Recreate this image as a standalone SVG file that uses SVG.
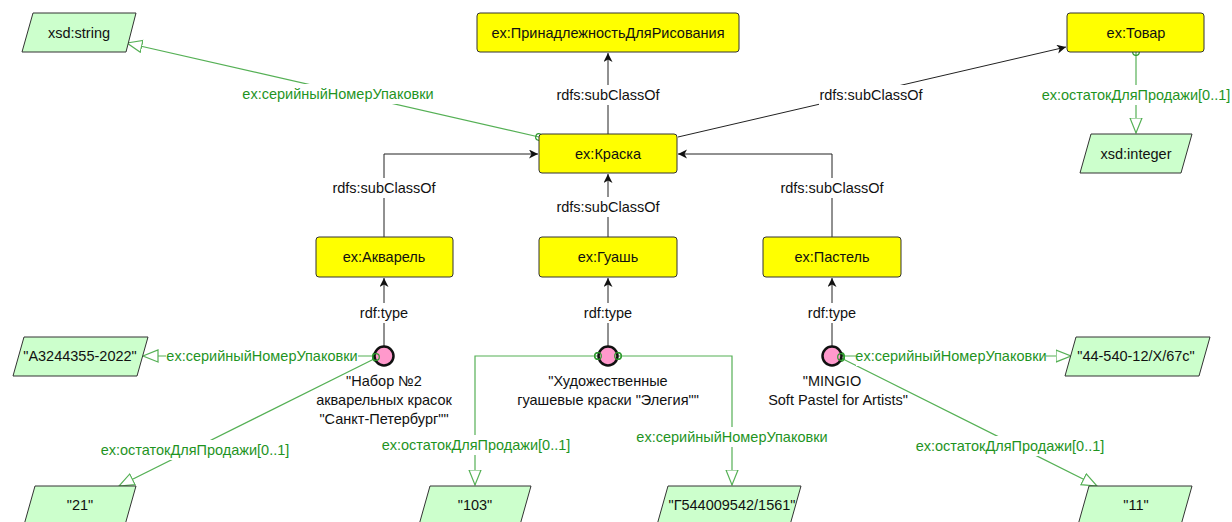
<svg xmlns="http://www.w3.org/2000/svg" width="1232" height="522" viewBox="0 0 1232 522">
<style>
text{font-family:"Liberation Sans",Arial,sans-serif;font-size:14.5px;text-anchor:middle;dominant-baseline:central;fill:#111}
.cls{fill:#ffff00;stroke:#333;stroke-width:1}
.lit{fill:#ccffcc;stroke:#333;stroke-width:1}
.ind{fill:#ff99cc;stroke:#111;stroke-width:2.5}
.e{fill:none;stroke:#222;stroke-width:1}
.g{fill:none;stroke:#55b055;stroke-width:1.2}
.gl{fill:#1f941f}
.bg{fill:#fff}
</style>
<defs>
<marker id="arr" markerUnits="userSpaceOnUse" markerWidth="12" markerHeight="12" refX="9" refY="4.5" orient="auto" viewBox="0 0 12 12">
<path d="M0,0 L9,4.5 L0,9 L2.5,4.5 z" fill="#111"/>
</marker>
<marker id="tri" markerUnits="userSpaceOnUse" markerWidth="18" markerHeight="16" refX="15.5" refY="7" orient="auto" viewBox="0 0 18 16">
<path d="M0.5,1 L15.5,7 L0.5,13 z" fill="#fff" stroke="#55b055" stroke-width="1.2"/>
</marker>
<marker id="dot" markerUnits="userSpaceOnUse" markerWidth="10" markerHeight="10" refX="5" refY="5" orient="auto" viewBox="0 0 10 10">
<circle cx="5" cy="5" r="3.3" fill="none" stroke="#2e9a2e" stroke-width="1.2"/>
</marker>
</defs>
<rect width="1232" height="522" fill="#fff"/>

<g id="connectors">
<path class="e" d="M608,134 L608,53" marker-end="url(#arr)"/>
<path class="e" d="M678,137 L1066,47" marker-end="url(#arr)"/>
<path class="e" d="M384,237 L384,154 L538,154" marker-end="url(#arr)"/>
<path class="e" d="M608,237 L608,174" marker-end="url(#arr)"/>
<path class="e" d="M832,237 L832,154 L678,154" marker-end="url(#arr)"/>
<path class="e" d="M384,346 L384,278" marker-end="url(#arr)"/>
<path class="e" d="M608,346 L608,278" marker-end="url(#arr)"/>
<path class="e" d="M832,346 L832,278" marker-end="url(#arr)"/>
<path class="g" d="M539,137 L127,43" marker-start="url(#dot)" marker-end="url(#tri)"/>
<path class="g" d="M1136,52 L1136,133" marker-start="url(#dot)" marker-end="url(#tri)"/>
<path class="g" d="M376,356 L143,356" marker-start="url(#dot)" marker-end="url(#tri)"/>
<path class="g" d="M376,358 L119,486" marker-start="url(#dot)" marker-end="url(#tri)"/>
<path class="g" d="M598,356 L475,356 L475,485" marker-start="url(#dot)" marker-end="url(#tri)"/>
<path class="g" d="M618,356 L732,356 L732,485" marker-start="url(#dot)" marker-end="url(#tri)"/>
<path class="g" d="M841,356 L1071,356" marker-start="url(#dot)" marker-end="url(#tri)"/>
<path class="g" d="M841,358 L1097,486" marker-start="url(#dot)" marker-end="url(#tri)"/>
<rect class="bg" x="556" y="85" width="104" height="20"/><text x="608" y="95">rdfs:subClassOf</text>
<rect class="bg" x="819" y="85" width="104" height="20"/><text x="871" y="95">rdfs:subClassOf</text>
<rect class="bg" x="332" y="178" width="104" height="20"/><text x="384" y="188">rdfs:subClassOf</text>
<rect class="bg" x="556" y="197" width="104" height="20"/><text x="608" y="207">rdfs:subClassOf</text>
<rect class="bg" x="780" y="178" width="104" height="20"/><text x="832" y="188">rdfs:subClassOf</text>
<rect class="bg" x="356" y="303" width="56" height="20"/><text x="384" y="313">rdf:type</text>
<rect class="bg" x="580" y="303" width="56" height="20"/><text x="608" y="313">rdf:type</text>
<rect class="bg" x="804" y="303" width="56" height="20"/><text x="832" y="313">rdf:type</text>
<rect class="bg" x="241" y="84" width="194" height="20"/><text class="gl" x="338" y="94">ex:серийныйНомерУпаковки</text>
<rect class="bg" x="1042" y="85" width="188" height="20"/><text class="gl" x="1136" y="95">ex:остатокДляПродажи[0..1]</text>
<rect class="bg" x="166" y="346" width="192" height="20"/><text class="gl" x="262" y="356">ex:серийныйНомерУпаковки</text>
<rect class="bg" x="101" y="440" width="188" height="20"/><text class="gl" x="195" y="450">ex:остатокДляПродажи[0..1]</text>
<rect class="bg" x="382" y="435" width="188" height="20"/><text class="gl" x="476" y="445">ex:остатокДляПродажи[0..1]</text>
<rect class="bg" x="635" y="427" width="194" height="20"/><text class="gl" x="732" y="437">ex:серийныйНомерУпаковки</text>
<rect class="bg" x="856" y="346" width="190" height="20"/><text class="gl" x="951" y="356">ex:серийныйНомерУпаковки</text>
<rect class="bg" x="916" y="436" width="188" height="20"/><text class="gl" x="1010" y="446">ex:остатокДляПродажи[0..1]</text>
</g>

<g id="n-prinadl"><rect class="cls" x="477" y="13" width="262" height="39" rx="3"/><text x="608" y="33">ex:ПринадлежностьДляРисования</text></g>
<g id="n-tovar"><rect class="cls" x="1067" y="13" width="137" height="39" rx="3"/><text x="1136" y="33">ex:Товар</text></g>
<g id="n-kraska"><rect class="cls" x="539" y="134" width="138" height="39" rx="3"/><text x="608" y="154">ex:Краска</text></g>
<g id="n-akvarel"><rect class="cls" x="316" y="237" width="137" height="40" rx="3"/><text x="384" y="257">ex:Акварель</text></g>
<g id="n-guash"><rect class="cls" x="539" y="237" width="138" height="40" rx="3"/><text x="608" y="257">ex:Гуашь</text></g>
<g id="n-pastel"><rect class="cls" x="763" y="237" width="138" height="40" rx="3"/><text x="832" y="257">ex:Пастель</text></g>

<g id="n-xsdstring"><polygon class="lit" points="33,13 136,13 126,52 22,52"/><text x="79" y="33">xsd:string</text></g>
<g id="n-xsdinteger"><polygon class="lit" points="1091,134 1192,134 1181,173 1080,173"/><text x="1136" y="154">xsd:integer</text></g>
<g id="n-lit-a324"><polygon class="lit" points="24,337 148,337 137,376 13,376"/><text x="80" y="356">"A3244355-2022"</text></g>
<g id="n-lit-44540"><polygon class="lit" points="1076,337 1210,337 1199,376 1065,376"/><text x="1136" y="356">"44-540-12/X/67c"</text></g>
<g id="n-lit-21"><polygon class="lit" points="35,486 136,486 125,525 24,525"/><text x="80" y="505">"21"</text></g>
<g id="n-lit-103"><polygon class="lit" points="430,486 531,486 520,525 419,525"/><text x="475" y="505">"103"</text></g>
<g id="n-lit-g544"><polygon class="lit" points="668,486 801,486 790,525 657,525"/><text x="732" y="505">"Г544009542/1561"</text></g>
<g id="n-lit-11"><polygon class="lit" points="1089,486 1192,486 1181,525 1078,525"/><text x="1136" y="505">"11"</text></g>

<g id="n-ind-akvarel"><circle class="ind" cx="384" cy="356" r="9.5"/><circle cx="376" cy="357" r="3.3" fill="none" stroke="#2e9a2e" stroke-width="1.2"/>
<text x="384" y="381">"Набор №2</text><text x="384" y="400">акварельных красок</text><text x="384" y="419">"Санкт-Петербург""</text></g>
<g id="n-ind-guash"><circle class="ind" cx="608" cy="356" r="9.5"/><circle cx="598" cy="356" r="3.3" fill="none" stroke="#2e9a2e" stroke-width="1.2"/><circle cx="618" cy="356" r="3.3" fill="none" stroke="#2e9a2e" stroke-width="1.2"/>
<text x="608" y="381">"Художественные</text><text x="608" y="400">гуашевые краски "Элегия""</text></g>
<g id="n-ind-pastel"><circle class="ind" cx="832" cy="356" r="9.5"/><circle cx="841" cy="357" r="3.3" fill="none" stroke="#2e9a2e" stroke-width="1.2"/>
<text x="832" y="381">"MINGIO</text><text x="838" y="400">Soft Pastel for Artists"</text></g>
</svg>
